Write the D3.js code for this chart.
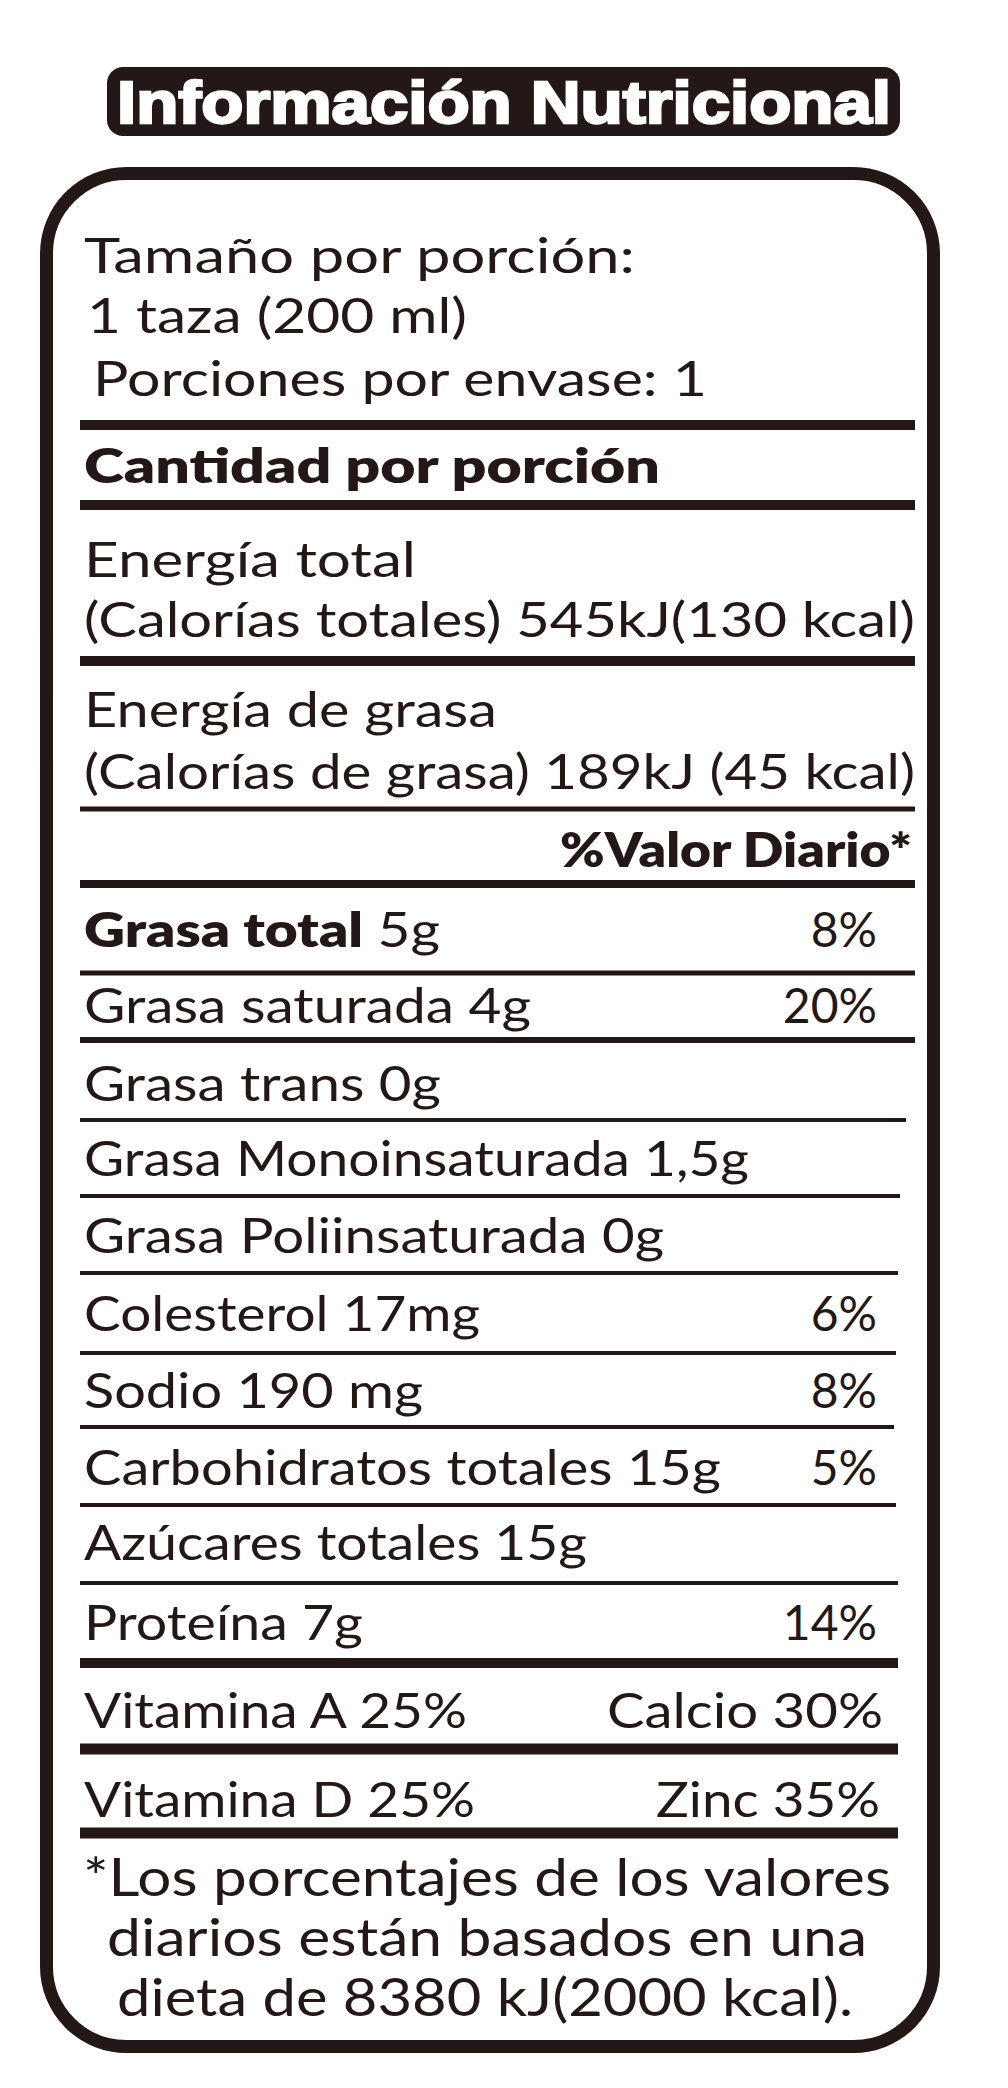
<!DOCTYPE html><html><head><meta charset="utf-8">
<script src="https://cdn.jsdelivr.net/npm/d3@7"></script>
<style>body{margin:0;background:#fff}</style></head><body>
<script>
const title = "Información Nutricional";
const headerLines = ["Tamaño por porción:", "1 taza (200 ml)", " Porciones por envase: 1"];
const sectionLabel = "Cantidad por porción";
const energyLines = ["Energía total", "(Calorías totales) 545kJ(130 kcal)", "Energía de grasa", "(Calorías de grasa) 189kJ (45 kcal)"];
const dvHeader = "%Valor Diario*";
const nutrients = ["Grasa total", "Grasa saturada", "Grasa trans", "Grasa Monoinsaturada", "Grasa Poliinsaturada", "Colesterol", "Sodio", "Carbohidratos totales", "Azúcares totales", "Proteína"];
const amounts = ["5g", "4g", "0g", "1,5g", "0g", "17mg", "190 mg", "15g", "15g", "7g"];
const dailyValues = ["8%", "20%", "", "", "", "6%", "8%", "5%", "", "14%"];
const vitaminsLeft = ["Vitamina A 25%", "Vitamina D 25%"];
const vitaminsRight = ["Calcio 30%", "Zinc 35%"];
const footnote = ["*Los porcentajes de los valores", "diarios están basados en una", "dieta de 8380 kJ(2000 kcal)."];

// layout
const C = "#231815", F = "Lato, 'DejaVu Sans', sans-serif";
const svg = d3.select("body").append("svg").attr("width",1008).attr("height",2088);
svg.append("rect").attr("x",107).attr("y",67).attr("width",793).attr("height",69).attr("rx",16).attr("fill",C);
svg.append("text").attr("x",117).attr("y",123).text(title).attr("font-family","'Liberation Sans',Arial,sans-serif")
  .attr("font-weight",900).attr("font-size",60).attr("fill","#fff").attr("stroke","#fff").attr("stroke-width",2.5)
  .attr("textLength",774).attr("lengthAdjust","spacingAndGlyphs");
svg.append("rect").attr("x",46.5).attr("y",173.5).attr("width",887).attr("height",1873).attr("rx",80)
  .attr("fill","none").attr("stroke",C).attr("stroke-width",13);

function txt(s,x,y,w,opt={}){
  const t=svg.append("text").attr("x",x).attr("y",y).attr("font-family",F).attr("font-size",opt.size||48)
   .attr("fill",C).attr("font-weight",opt.bold?800:400).attr("text-anchor",opt.anchor||"start");
  if(opt.parts){opt.parts.forEach(p=>t.append("tspan").attr("font-weight",p[1]?800:400).text(p[0]));}
  else t.text(s);
  if(w) t.attr("textLength",w).attr("lengthAdjust","spacingAndGlyphs");
  t.attr("xml:space","preserve");
  return t;
}
function rule(y,h,x2){svg.append("rect").attr("x",80).attr("y",y-h/2).attr("width",(x2||915)-80).attr("height",h).attr("fill",C);}

const hy=[273,333,396], hx=[84,87,93], hw=[551,380,614];
headerLines.forEach((s,i)=>txt(s.trim(),hx[i],hy[i],hw[i]));
rule(425,10);
txt(sectionLabel,84,483,576,{bold:true});
rule(505,10);
const ey=[577,637,727,789], ew=[332,831,413,831];
energyLines.forEach((s,i)=>txt(s,84,ey[i],ew[i]));
rule(661,10); rule(809,5);
txt(dvHeader,912,867,352,{bold:true,anchor:"end"});
rule(884,8);

const y = d3.scaleLinear().domain([0,9]).range([947,1640]);
const nw=[356,447,357,665,580,396,339,637,503,279];
const lineY=[973,1040,1120,1196,1273,1353,1427,1505,1583];
const lineH=[5,6,4,4,4,4,4,4,4];
const lineR=[915,915,906,900,898,896,894,896,898];
nutrients.forEach((n,i)=>{
  const by=[947,1023,1101,1176,1253,1331,1408,1485,1560,1640][i];
  txt(null,84,by,nw[i],{parts:[[n,i===0],[" "+amounts[i],false]]});
  if(dailyValues[i]) txt(dailyValues[i],877,by,null,{anchor:"end"});
  if(i<9) rule(lineY[i],lineH[i],lineR[i]);
});
rule(1663,10,898);
const vy=[1728,1817], vl=[383,391], vr=[[607,276],[656,224]];
vitaminsLeft.forEach((s,i)=>{txt(s,84,vy[i],vl[i]); txt(vitaminsRight[i],vr[i][0],vy[i],vr[i][1]);});
rule(1749,11,898); rule(1833,11,898);
const fy=[1896,1956,2016], fx=[[83,808],[107,760],[117,736]];
footnote.forEach((s,i)=>txt(s,fx[i][0],fy[i],fx[i][1],{size:52}));
</script></body></html>
